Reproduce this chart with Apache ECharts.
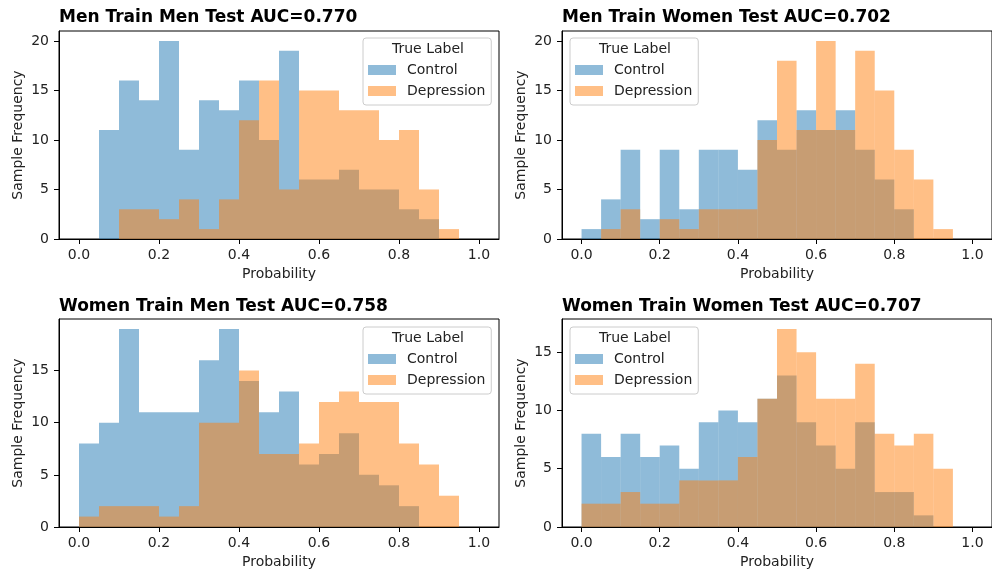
<!DOCTYPE html>
<html>
<head>
<meta charset="utf-8">
<script src="https://cdn.jsdelivr.net/npm/echarts@6/dist/echarts.min.js"></script>
<style>
html,body{margin:0;padding:0;background:#fff;}
#chart{width:992px;height:574px;}
</style>
</head>
<body>
<div id="chart"></div>
<script>
// Histogram bin edges (20 bins of width 0.05)
const binEdges = [0,0.05,0.1,0.15,0.2,0.25,0.3,0.35,0.4,0.45,0.5,0.55,0.6,0.65,0.7,0.75,0.8,0.85,0.9,0.95,1.0];

const panelTitles = [
  'Men Train Men Test AUC=0.770',
  'Men Train Women Test AUC=0.702',
  'Women Train Men Test AUC=0.758',
  'Women Train Women Test AUC=0.707'
];

// Counts per bin
const menMenControl      = [0,11,16,14,20,9,14,13,16,10,19,6,6,7,5,5,3,2,0,0];
const menMenDepression   = [0,0,3,3,2,4,1,4,12,16,5,15,15,13,13,10,11,5,1,0];
const menWomenControl    = [1,4,9,2,9,3,9,9,7,12,9,13,11,13,9,6,3,0,0,0];
const menWomenDepression = [0,1,3,0,2,1,3,3,3,10,18,11,20,11,19,15,9,6,1,0];
const womenMenControl    = [8,10,19,11,11,11,16,19,14,11,13,6,7,9,5,4,2,0,0,0];
const womenMenDepression = [1,2,2,2,1,2,10,10,15,7,7,8,12,13,12,12,8,6,3,0];
const womenWomenControl    = [8,6,8,6,7,5,9,10,9,11,13,9,7,5,9,3,3,1,0,0];
const womenWomenDepression = [2,2,3,2,2,4,4,4,6,11,17,15,11,11,14,8,7,8,5,0];

const xTicks = [0,0.2,0.4,0.6,0.8,1.0];
const yTicksP1 = [0,5,10,15,20];
const yTicksP2 = [0,5,10,15,20];
const yTicksP3 = [0,5,10,15];
const yTicksP4 = [0,5,10,15];

const legendTitle = 'True Label';
const seriesNames = ['Control','Depression'];

// ---- layout / styling ----
const FONT = 'DejaVu Sans';
const TXT = '#222';
const panels = [
  {title: panelTitles[0], ctrl: menMenControl, dep: menMenDepression, yMax: 21, yTicks: yTicksP1,
   grid:{left:59, top:31, width:440, height:208}, titleTop:9, legend:{left:363, top:38}},
  {title: panelTitles[1], ctrl: menWomenControl, dep: menWomenDepression, yMax: 21, yTicks: yTicksP2,
   grid:{left:562, top:31, width:440, height:208}, titleTop:9, legend:{left:570, top:38}},
  {title: panelTitles[2], ctrl: womenMenControl, dep: womenMenDepression, yMax: 19.95, yTicks: yTicksP3,
   grid:{left:59, top:319, width:440, height:208}, titleTop:298, legend:{left:363, top:327}},
  {title: panelTitles[3], ctrl: womenWomenControl, dep: womenWomenDepression, yMax: 17.85, yTicks: yTicksP4,
   grid:{left:562, top:319, width:440, height:208}, titleTop:298, legend:{left:570, top:327}}
];

function toBins(counts){
  return counts.map((c,i)=>[binEdges[i], binEdges[i+1], c]);
}
function renderBar(params, api){
  const p0 = api.coord([api.value(0), 0]);
  const p1 = api.coord([api.value(1), api.value(2)]);
  return {type:'rect', shape:{x:p0[0], y:p1[1], width:p1[0]-p0[0], height:p0[1]-p1[1]}, style: api.style()};
}

const colors = ['rgba(31,119,180,0.5)','rgba(255,127,14,0.5)'];

const option = {
  animation:false,
  backgroundColor:'#fff',
  title: panels.map(p=>({text:p.title, left:p.grid.left, top:p.titleTop, padding:0,
    textStyle:{fontFamily:FONT, fontSize:17, fontWeight:'bold', color:'#000'}})),
  grid: panels.map(p=>Object.assign({show:true, borderColor:'#000', borderWidth:1, containLabel:false}, p.grid)),
  xAxis: panels.map((p,i)=>({type:'value', gridIndex:i, min:-0.05, max:1.05,
    name:'Probability', nameLocation:'middle', nameGap:28,
    nameTextStyle:{fontFamily:FONT, fontSize:14, color:TXT},
    splitLine:{show:false},
    axisLine:{show:true, onZero:false, lineStyle:{color:'#000', width:1}},
    axisTick:{show:true, length:5, lineStyle:{color:'#000'}, customValues:xTicks},
    axisLabel:{fontFamily:FONT, fontSize:14, color:TXT, margin:9, customValues:xTicks,
      formatter:v=>v.toFixed(1)}})),
  yAxis: panels.map((p,i)=>({type:'value', gridIndex:i, min:0, max:p.yMax,
    name:'Sample Frequency', nameLocation:'middle', nameGap:34,
    nameTextStyle:{fontFamily:FONT, fontSize:14, color:TXT},
    splitLine:{show:false},
    axisLine:{show:true, onZero:false, lineStyle:{color:'#000', width:1}},
    axisTick:{show:true, length:5, lineStyle:{color:'#000'}, customValues:p.yTicks},
    axisLabel:{fontFamily:FONT, fontSize:14, color:TXT, margin:10, customValues:p.yTicks,
      formatter:v=>String(v)}})),
  legend: panels.map(p=>({left:p.legend.left, top:p.legend.top, orient:'vertical',
    data:seriesNames, selectedMode:false, icon:'rect', itemWidth:28, itemHeight:10, itemGap:5,
    padding:[24,6,6,5], width:118,
    borderColor:'#cccccc', borderWidth:1, borderRadius:3, backgroundColor:'rgba(255,255,255,0.8)',
    textStyle:{fontFamily:FONT, fontSize:14, color:TXT, lineHeight:16, padding:[0,0,0,6]}})),
  graphic: panels.map(p=>({type:'text', z:100, zlevel:0, left:p.legend.left+29, top:p.legend.top+4,
    style:{text:legendTitle, font:'14px "DejaVu Sans"', fill:TXT}})),
  series: []
};
panels.forEach((p,i)=>{
  [p.ctrl, p.dep].forEach((arr,k)=>{
    option.series.push({type:'custom', name:seriesNames[k], xAxisIndex:i, yAxisIndex:i,
      renderItem:renderBar, itemStyle:{color:colors[k]},
      encode:{x:[0,1], y:2}, data:toBins(arr)});
  });
});

const chart = echarts.init(document.getElementById('chart'), null, {renderer:'canvas'});
chart.setOption(option);
</script>
</body>
</html>
